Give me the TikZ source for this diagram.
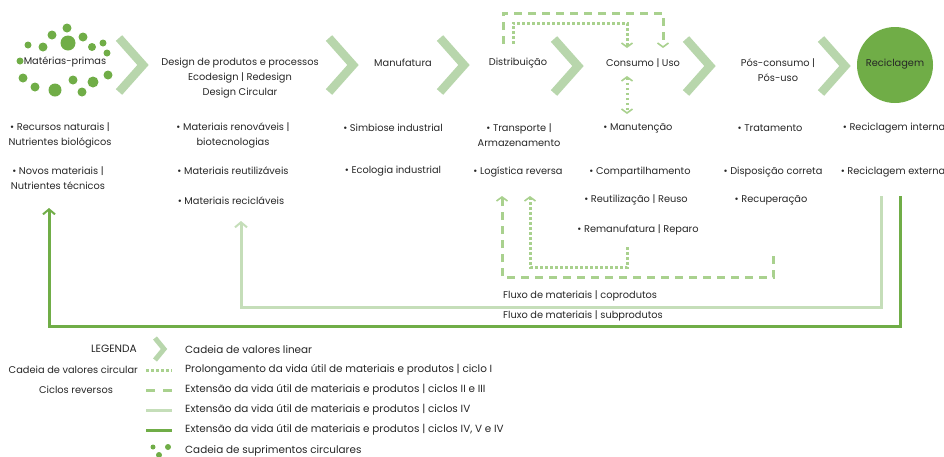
\documentclass[tikz,border=0pt]{standalone}
\usepackage{fontspec}
\setmainfont{Poppins}
\usetikzlibrary{arrows.meta}
\definecolor{dkg}{HTML}{70AD47}
\definecolor{chv}{HTML}{B8D6AC}
\definecolor{dsh}{HTML}{A9D18E}
\definecolor{ltg}{HTML}{C5DEB9}
\tikzset{
 txt/.style={font=\fontsize{9.8}{15}\selectfont, inner sep=0pt, align=center, text=black!85},
 legtxt/.style={txt, font=\fontsize{10.4}{15}\selectfont, anchor=west},
 chevline/.style={draw=chv, line width=8.5pt, line join=miter},
 dotl/.style={draw=dsh, line width=3pt, dash pattern=on 2.6pt off 2.4pt},
 dashl/.style={draw=dsh, line width=3pt, dash pattern=on 8pt off 6pt},
 ltl/.style={draw=ltg, line width=3pt},
 dkl/.style={draw=dkg, line width=3pt},
 otip/.tip={Straight Barb[length=4pt,width=11pt,line width=1.6pt]},
 stip/.tip={Straight Barb[length=5pt,width=12pt,line width=2pt]},
 gdot/.style={fill=dkg, circle, inner sep=0pt, minimum size=#1},
 chevron/.pic={\draw[chevline] (-12,-27)--(12,0)--(-12,27);}
}
\begin{document}
\begin{tikzpicture}[x=1pt,y=-1pt]
\useasboundingbox (0,0) rectangle (944,456);
% chevrons
\pic at (131,65) {chevron};
\pic at (341,65) {chevron};
\pic at (452,65) {chevron};
\pic at (566,66) {chevron};
\pic at (698,66) {chevron};
\pic at (833,66) {chevron};
% dots
\foreach \x/\y/\s in {67/28/9,52/35/9,83/37/9,28/45/7,43/47/9,68/43/15,92/47/8,103/43/7,107/53/7,20/61/7,108/75/9,23/78/9,73/80/9,93/82/11,35/87/9,55/90/13,82/92/9}
  \node[gdot=\s pt] at (\x,\y) {};
% header nodes
\node[txt] (mp) at (65,62) {Matérias-primas};
\node[txt] (design) at (240,78) {Design de produtos e processos\\Ecodesign | Redesign\\Design Circular};
\node[txt] (manuf) at (403,63) {Manufatura};
\node[txt] (dist) at (518,63) {Distribuição};
\node[txt] (cons) at (643,63) {Consumo | Uso};
\node[txt] (pos) at (778,70.5) {Pós-consumo |\\Pós-uso};
\node[circle, fill=dkg, minimum size=76pt, inner sep=0pt] (rec) at (895,65) {};
\node[txt] (rect) at (895,64) {Reciclagem};
% column 1
\node[txt] (c1a) at (60,135.5) {• Recursos naturais |\\Nutrientes biológicos};
\node[txt] (c1b) at (58,178.5) {• Novos materiais |\\Nutrientes técnicos};
% column 2
\node[txt] (c2a) at (233,135.5) {• Materiais renováveis |\\biotecnologias};
\node[txt] (c2b) at (233,171) {• Materiais reutilizáveis};
\node[txt] (c2c) at (231,201) {• Materiais recicláveis};
% column 3
\node[txt] (c3a) at (393,128) {• Simbiose industrial};
\node[txt] (c3b) at (393,171) {• Ecologia industrial};
% column 4
\node[txt] (c4a) at (519,135.5) {• Transporte |\\Armazenamento};
\node[txt] (c4b) at (518,172) {• Logística reversa};
% column 5
\node[txt] (c5a) at (638,128) {• Manutenção};
\node[txt] (c5b) at (640,172) {• Compartilhamento};
\node[txt] (c5c) at (636,200) {• Reutilização | Reuso};
\node[txt] (c5d) at (638,230) {• Remanufatura | Reparo};
% column 6
\node[txt] (c6a) at (770,128) {• Tratamento};
\node[txt] (c6b) at (773,172) {• Disposição correta};
\node[txt] (c6c) at (771,200) {• Recuperação};
% column 7
\node[txt] (c7a) at (894,128) {• Reciclagem interna};
\node[txt] (c7b) at (893,172) {• Reciclagem externa};
% flow labels
\node[txt, anchor=west] (fc) at (503,296) {Fluxo de materiais | coprodutos};
\node[txt, anchor=west] (fs) at (503,316) {Fluxo de materiais | subprodutos};
% coordinates for loops
\coordinate (dtA) at (513,44);
\coordinate (dtB) at (627,48);
\coordinate (daA) at (503,44);
\coordinate (daB) at (663,48);
\coordinate (cu) at (627,76);
\coordinate (cd) at (627,114);
\coordinate (bdaA) at (773,256);
\coordinate (bdaB) at (502,196);
\coordinate (bdtA) at (627,247);
\coordinate (bdtB) at (530,196);
\coordinate (ltA) at (881,196);
\coordinate (ltB) at (241,221);
\coordinate (dkA) at (900,196);
\coordinate (dkB) at (49,208);
% top loops
\draw[dashl, -otip] (daA) |- (583,13) -| (daB);
\draw[dotl, -otip] (dtA) |- (570,23) -| (dtB);
\draw[dotl, otip-otip] (cu) -- (cd);
% bottom loops
\draw[dashl, -otip] (bdaA) |- (640,277.5) -| (bdaB);
\draw[dotl, -otip] (bdtA) |- (580,267.5) -| (bdtB);
% solid flows
\draw[ltl, -stip] (ltA) |- (560,307) -| (ltB);
\draw[dkl, -stip] (dkA) |- (470,326) -| (dkB);
% legend
\node[txt, anchor=east, font=\fontsize{10.6}{15}\selectfont] (lg) at (137,349) {LEGENDA};
\node[txt, anchor=east] (lgc) at (138,370) {Cadeia de valores circular};
\node[txt] (lgr) at (76,390) {Ciclos reversos};
\draw[chv, line width=5pt, line join=miter] (155,338) -- (164,349) -- (155,360);
\coordinate (l2a) at (146,370); \coordinate (l2b) at (172,370);
\coordinate (l3a) at (146,390); \coordinate (l3b) at (172,390);
\coordinate (l4a) at (146,410); \coordinate (l4b) at (172,410);
\coordinate (l5a) at (146,430); \coordinate (l5b) at (172,430);
\draw[dotl] (l2a) -- (l2b);
\draw[dashl, dash pattern=on 9pt off 8pt] (l3a) -- (l3b);
\draw[ltl] (l4a) -- (l4b);
\draw[dkl] (l5a) -- (l5b);
\node[gdot=5pt] at (153,447) {};
\node[gdot=6pt] at (159,455) {};
\node[gdot=6pt] at (168,447) {};
\node[legtxt] (t1) at (185,350) {Cadeia de valores linear};
\node[legtxt] (t2) at (185,370) {Prolongamento da vida útil de materiais e produtos | ciclo I};
\node[legtxt] (t3) at (185,390) {Extensão da vida útil de materiais e produtos | ciclos II e III};
\node[legtxt] (t4) at (185,410) {Extensão da vida útil de materiais e produtos | ciclos IV};
\node[legtxt] (t5) at (185,430) {Extensão da vida útil de materiais e produtos | ciclos IV, V e IV};
\node[legtxt] (t6) at (185,451) {Cadeia de suprimentos circulares};
\end{tikzpicture}
\end{document}
